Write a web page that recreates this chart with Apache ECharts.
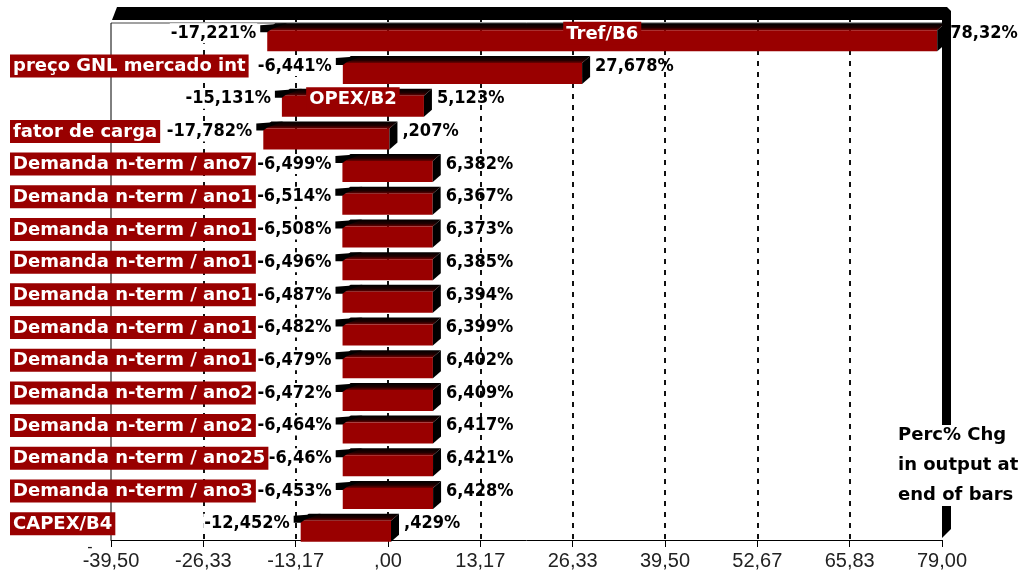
<!DOCTYPE html>
<html>
<head>
<meta charset="utf-8">
<script src="https://cdn.jsdelivr.net/npm/echarts@6/dist/echarts.min.js"></script>
<style>
  html, body { margin: 0; padding: 0; background: #fff; }
  #chart { width: 1021px; height: 583px; }
</style>
</head>
<body>
<div id="chart"></div>
<script>
// Tornado rows, top to bottom
const categories = [
  'Tref/B6',
  'preço GNL mercado int',
  'OPEX/B2',
  'fator de carga',
  'Demanda n-term / ano7',
  'Demanda n-term / ano1',
  'Demanda n-term / ano1',
  'Demanda n-term / ano1',
  'Demanda n-term / ano1',
  'Demanda n-term / ano1',
  'Demanda n-term / ano1',
  'Demanda n-term / ano2',
  'Demanda n-term / ano2',
  'Demanda n-term / ano25',
  'Demanda n-term / ano3',
  'CAPEX/B4'
];
// Percent change in output at the low / high end of each bar
const lowValues = [-17.221, -6.441, -15.131, -17.782, -6.499, -6.514, -6.508, -6.496,
                   -6.487, -6.482, -6.479, -6.472, -6.464, -6.46, -6.453, -12.452];
const highValues = [78.32, 27.678, 5.123, 0.207, 6.382, 6.367, 6.373, 6.385,
                    6.394, 6.399, 6.402, 6.409, 6.417, 6.421, 6.428, 0.429];
// Value axis: ten ticks from -39,50 to 79,00
const axisMin = -39.5;
const axisMax = 79;
const axisStep = 79 / 6;
const noteLines = ['Perc% Chg', 'in output at', 'end of bars'];

const W = 1021, H = 583;
const GRID = { left: 111, right: 79, top: 17, bottom: 43 };
const BAR_RED = '#990000';
const CAT_FONT = 'bold 18px "DejaVu Sans"';
const VAL_FONT = 'bold 18px "DejaVu Sans Condensed", "DejaVu Sans"';
const TICK_FONT = '20px "Liberation Sans"';
const DX = 8, DY = 7;

const measureCtx = document.createElement('canvas').getContext('2d');
function textWidth(t, font) { measureCtx.font = font; return measureCtx.measureText(t).width; }

// 78.32 -> "78,32%", 0.207 -> ",207%", -6.46 -> "-6,46%"
function fmtPct(v) {
  let s = Math.abs(v).toFixed(3).replace(/0+$/, '').replace(/\.$/, '');
  if (s.startsWith('0.')) s = s.slice(1);
  return (v < 0 ? '-' : '') + s.replace('.', ',') + '%';
}
function fmtTick(v) {
  if (Math.abs(v) < 1e-9) return ',00';
  return v.toFixed(2).replace('.', ',');
}

function renderItem(params, api) {
  const i = api.value(2);
  const lo = api.value(0), hi = api.value(1);
  const pLo = api.coord([lo, i]);
  const pHi = api.coord([hi, i]);
  const c = pLo[1], xl = pLo[0], xh = pHi[0];
  const fTop = c - 3, fBot = c + 18, back = fTop - DY;

  const topGrad = new echarts.graphic.LinearGradient(0, 0, 0, 1, [
    { offset: 0, color: '#000' },
    { offset: 0.6, color: '#200000' },
    { offset: 1, color: '#700000' }
  ]);

  const name = categories[i];
  const boxW = textWidth(name, CAT_FONT) + 6;
  const boxX = (boxW + 10 < xh - xl) ? (xl + xh) / 2 - boxW / 2 : 10;

  return {
    type: 'group',
    children: [
      // shaded top face
      { type: 'polygon', shape: { points: [[xl, fTop], [xl + DX, back], [xh + DX, back], [xh, fTop]] },
        style: { fill: topGrad } },
      // front face
      { type: 'rect', shape: { x: xl, y: fTop, width: xh - xl, height: fBot - fTop },
        style: { fill: BAR_RED } },
      // right side face
      { type: 'polygon', shape: { points: [[xh, fTop], [xh + DX, back], [xh + DX, fBot - DY], [xh, fBot]] },
        style: { fill: '#000' } },
      // dark sliver on the left end
      { type: 'polygon', shape: { points: [[xl - 7, c - 8], [xl + 20, back], [xl + 4, c - 4], [xl, c - 1], [xl - 7, c - 1]] },
        style: { fill: '#000' } },
      // low-end value
      { type: 'text', x: xl - 10, y: c,
        style: { text: fmtPct(lo), font: VAL_FONT, fill: '#000', align: 'right', verticalAlign: 'middle',
                 backgroundColor: '#fff', padding: [1, 1] } },
      // high-end value
      { type: 'text', x: xh + 13, y: c,
        style: { text: fmtPct(hi), font: VAL_FONT, fill: '#000', align: 'left', verticalAlign: 'middle' } },
      // category name tag
      { type: 'rect', shape: { x: boxX, y: c - 11.5, width: boxW, height: 23 },
        style: { fill: BAR_RED } },
      { type: 'text', x: boxX + 3, y: c + 0.5,
        style: { text: name, font: CAT_FONT, fill: '#fff', align: 'left', verticalAlign: 'middle' } }
    ]
  };
}

const chart = echarts.init(document.getElementById('chart'), null, { renderer: 'canvas' });

const gL = GRID.left, gR = W - GRID.right, gB = H - GRID.bottom, gT = GRID.top;
const frameTop = gT + 6;

chart.setOption({
  animation: false,
  backgroundColor: '#fff',
  grid: { left: GRID.left, right: GRID.right, top: GRID.top, bottom: GRID.bottom, containLabel: false },
  xAxis: {
    type: 'value',
    min: axisMin,
    max: axisMax,
    interval: axisStep,
    axisLine: { show: true, lineStyle: { color: '#000', width: 1 } },
    axisTick: { show: true, length: 7, lineStyle: { color: '#000', width: 1 } },
    axisLabel: { formatter: fmtTick, font: TICK_FONT, fontFamily: 'Liberation Sans', fontSize: 20,
                 color: '#222', margin: 11 },
    splitLine: { show: true, showMinLine: false, showMaxLine: false,
                 lineStyle: { color: '#111', width: 2, type: [5, 6] } }
  },
  yAxis: {
    type: 'category',
    inverse: true,
    data: categories,
    axisLine: { show: false },
    axisTick: { show: false },
    axisLabel: { show: false },
    splitLine: { show: false }
  },
  series: [{
    type: 'custom',
    renderItem: renderItem,
    encode: { x: [0, 1], y: 2 },
    clip: false,
    z: 3,
    data: lowValues.map((lo, i) => [lo, highValues[i], i])
  }],
  graphic: [
    // box top (depth band)
    { type: 'polygon', z: 1, shape: { points: [[gL + 1, frameTop - 3], [gL + 6, gT - 10], [gR + 5, gT - 10], [gR + 9, gT - 6], [gR + 9, frameTop - 3]] },
      style: { fill: '#000' } },
    { type: 'line', z: 1, shape: { x1: gL, y1: frameTop, x2: gR, y2: frameTop }, style: { stroke: '#444', lineWidth: 1 } },
    { type: 'line', z: 1, shape: { x1: gL, y1: frameTop, x2: gL, y2: gB }, style: { stroke: '#000', lineWidth: 1 } },
    // right wall
    { type: 'polygon', z: 1, shape: { points: [[gR, frameTop - 3], [gR + 9, frameTop - 3], [gR + 9, gB - 11], [gR, gB - 2]] },
      style: { fill: '#000' } },
    { type: 'rect', z: 5, shape: { x: gR - 52, y: gB - 115, width: 131, height: 81 }, style: { fill: '#fff' } },
    { type: 'text', z: 6, x: gR - 44, y: gB - 120,
      style: { text: noteLines.join('\n'), font: CAT_FONT, fill: '#000', lineHeight: 30, align: 'left', verticalAlign: 'top' } },
    { type: 'text', z: 6, x: gL - 21, y: gB + 8,
      style: { text: '-', font: '16px "Liberation Sans"', fill: '#222', align: 'center', verticalAlign: 'middle' } }
  ]
});
</script>
</body>
</html>
